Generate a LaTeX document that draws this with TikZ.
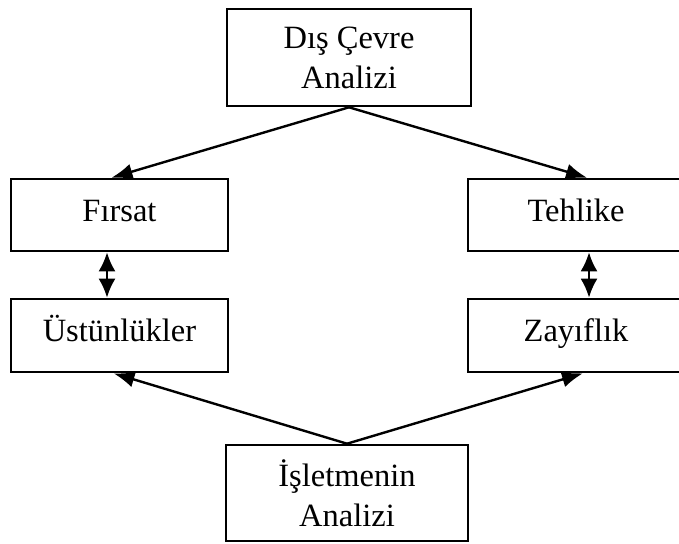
\documentclass[tikz,border=0pt]{standalone}
\usepackage{fontspec}
\setmainfont{Liberation Serif}
\usetikzlibrary{arrows.meta}
\begin{document}
\begin{tikzpicture}[x=1pt,y=-1pt,
  box/.style={draw,line width=2.6pt,inner sep=0pt,align=center,
    font=\fontsize{32.5}{40}\selectfont},
  onerow/.style={text height=22pt,text depth=10pt},
  tip/.style={Latex[length=21pt,width=17pt]},
  link/.style={line width=2.4pt,-{Latex[length=21pt,width=16pt]}},
  both/.style={line width=2.4pt,{Latex[length=19pt,width=17pt]}-{Latex[length=19pt,width=17pt]}}]
  \useasboundingbox (0,0) rectangle (679,543);
  \clip (0,0) rectangle (679,543);
  % outside analysis and the internal analysis
  \node[box,minimum width=244pt,minimum height=97pt] (dis) at (349,57.5) {Dış Çevre\\Analizi};
  \node[box,minimum width=242pt,minimum height=96pt] (isl) at (347,493) {İşletmenin\\Analizi};
  % left column
  \node[box,onerow,minimum width=217pt,minimum height=72pt] (firsat) at (119.5,215) {Fırsat};
  \node[box,onerow,minimum width=217pt,minimum height=73pt] (ustun) at (119.5,335.5) {Üstünlükler};
  % right column
  \node[box,onerow,minimum width=216pt,minimum height=72pt] (tehlike) at (576,215) {Tehlike};
  \node[box,onerow,minimum width=216pt,minimum height=73pt] (zayif) at (576,335.5) {Zayıflık};
  % connectors
  \draw[link] (dis.south) -- ([xshift=-8pt]firsat.north);
  \draw[link] (dis.south) -- ([xshift=11pt]tehlike.north);
  \draw[link] (isl.north) -- ([xshift=-6pt]ustun.south);
  \draw[link] (isl.north) -- ([xshift=7pt]zayif.south);
  \draw[both] ([xshift=-12.5pt]firsat.south) -- ([xshift=-12.5pt]ustun.north);
  \draw[both] ([xshift=13pt]tehlike.south) -- ([xshift=13pt]zayif.north);
\end{tikzpicture}
\end{document}
